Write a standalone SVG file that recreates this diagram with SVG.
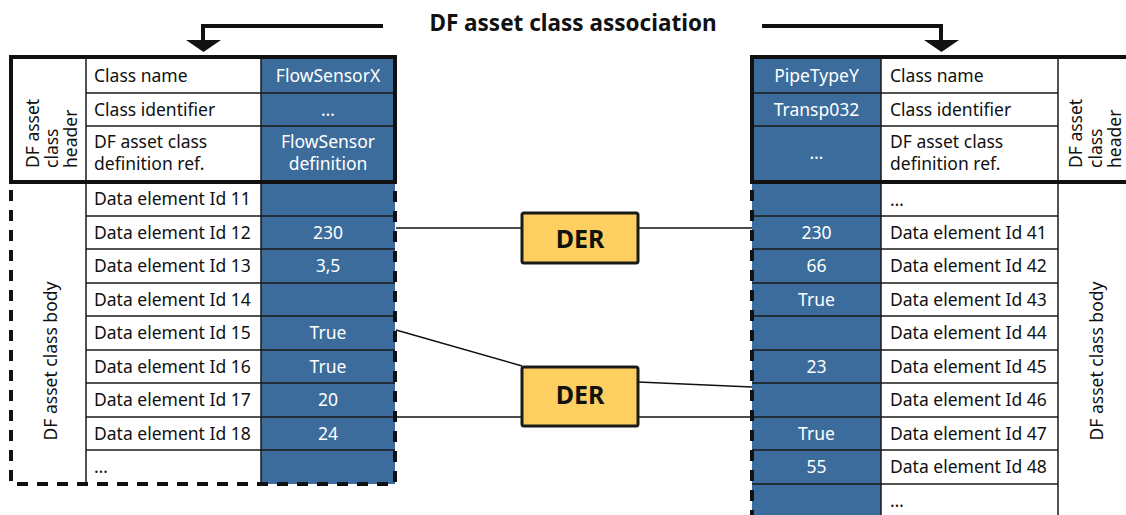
<svg xmlns="http://www.w3.org/2000/svg" width="1126" height="515" viewBox="0 0 1126 515">
<style>
.t{font-family:"Noto Sans","Open Sans",sans-serif;font-size:17.5px;fill:#111}
.v{font-family:"Noto Sans","Open Sans",sans-serif;font-size:17.5px;fill:#fff;text-anchor:middle}
.blue{fill:#3b6c9b}
.grid{stroke:#1a1a1a;stroke-width:1.5;fill:none}
.thick{stroke:#111;stroke-width:4;fill:none}
.dash{stroke:#111;stroke-width:4;fill:none;stroke-dasharray:11 9}
.conn{stroke:#111;stroke-width:1.5;fill:none}
.der rect{fill:#fdcf60;stroke:#1a1a1a;stroke-width:3}
.der text{font-family:"Noto Sans","Open Sans",sans-serif;font-size:25px;font-weight:bold;fill:#111;text-anchor:middle}
.title{font-family:"Noto Sans","Open Sans",sans-serif;font-size:22.5px;font-weight:bold;fill:#111;text-anchor:middle}
</style>
<rect width="1126" height="515" fill="#fff"/>

<g id="title">
<text class="title" x="573" y="31">DF asset class association</text>
<path d="M383,26 H203 V41" stroke="#111" stroke-width="4" fill="none"/>
<polygon points="186,40 221,40 203.5,52" fill="#111"/>
<path d="M762,26 H941 V41" stroke="#111" stroke-width="4" fill="none"/>
<polygon points="924,40 959,40 941.5,52" fill="#111"/>
</g>

<g id="left-table">
<rect x="86" y="57" width="175" height="427" fill="#fff"/>
<rect class="blue" x="261" y="57" width="134" height="427"/>
<path class="grid" d="M86,57 V484 M261,57 V484 M86,93 H395 M86,126 H395 M86,216 H395 M86,249 H395 M86,283 H395 M86,316 H395 M86,350 H395 M86,383 H395 M86,417 H395 M86,450 H395"/>
<rect class="thick" x="11" y="57" width="384" height="125"/>
<path class="dash" d="M11,190 V484 H395 V185"/>
<text class="t" transform="translate(39,168) rotate(-90)">DF asset</text>
<text class="t" transform="translate(58,168) rotate(-90)">class</text>
<text class="t" transform="translate(77,168) rotate(-90)">header</text>
<text class="t" text-anchor="middle" transform="translate(57,361) rotate(-90)">DF asset class body</text>
<text class="t" x="94" y="81.5">Class name</text>
<text class="t" x="94" y="115.5">Class identifier</text>
<text class="t" x="94" y="148">DF asset class</text>
<text class="t" x="94" y="170">definition ref.</text>
<text class="v" x="328" y="81.5">FlowSensorX</text>
<text class="v" x="328" y="115.5">…</text>
<text class="v" x="328" y="148">FlowSensor</text>
<text class="v" x="328" y="170">definition</text>
<text class="t" x="94" y="205">Data element Id 11</text>
<text class="t" x="94" y="238.5">Data element Id 12</text>
<text class="t" x="94" y="272">Data element Id 13</text>
<text class="t" x="94" y="305.5">Data element Id 14</text>
<text class="t" x="94" y="339">Data element Id 15</text>
<text class="t" x="94" y="372.5">Data element Id 16</text>
<text class="t" x="94" y="406">Data element Id 17</text>
<text class="t" x="94" y="439.5">Data element Id 18</text>
<text class="t" x="94" y="473">…</text>
<text class="v" x="328" y="238.5">230</text>
<text class="v" x="328" y="272">3,5</text>
<text class="v" x="328" y="339">True</text>
<text class="v" x="328" y="372.5">True</text>
<text class="v" x="328" y="406">20</text>
<text class="v" x="328" y="439.5">24</text>
</g>

<g id="right-table">
<rect class="blue" x="752" y="57" width="129" height="462"/>
<rect x="881" y="57" width="177" height="462" fill="#fff"/>
<path class="grid" d="M881,57 V519 M1058,57 V519 M752,93 H1058 M752,126 H1058 M752,216 H1058 M752,249 H1058 M752,283 H1058 M752,316 H1058 M752,350 H1058 M752,383 H1058 M752,417 H1058 M752,450 H1058 M752,484 H1058"/>
<path class="thick" d="M1130,57 H752 V182 H1130"/>
<path class="dash" d="M752,190 V519"/>
<text class="t" transform="translate(1082,168) rotate(-90)">DF asset</text>
<text class="t" transform="translate(1102,168) rotate(-90)">class</text>
<text class="t" transform="translate(1121,168) rotate(-90)">header</text>
<text class="t" text-anchor="middle" transform="translate(1103,361) rotate(-90)">DF asset class body</text>
<text class="v" x="816.5" y="81.5">PipeTypeY</text>
<text class="v" x="816.5" y="115.5">Transp032</text>
<text class="v" x="816.5" y="159">…</text>
<text class="t" x="890" y="81.5">Class name</text>
<text class="t" x="890" y="115.5">Class identifier</text>
<text class="t" x="890" y="148">DF asset class</text>
<text class="t" x="890" y="170">definition ref.</text>
<text class="t" x="890" y="206">…</text>
<text class="t" x="890" y="238.5">Data element Id 41</text>
<text class="t" x="890" y="272">Data element Id 42</text>
<text class="t" x="890" y="305.5">Data element Id 43</text>
<text class="t" x="890" y="339">Data element Id 44</text>
<text class="t" x="890" y="372.5">Data element Id 45</text>
<text class="t" x="890" y="406">Data element Id 46</text>
<text class="t" x="890" y="439.5">Data element Id 47</text>
<text class="t" x="890" y="473">Data element Id 48</text>
<text class="t" x="890" y="507">…</text>
<text class="v" x="816.5" y="238.5">230</text>
<text class="v" x="816.5" y="272">66</text>
<text class="v" x="816.5" y="305.5">True</text>
<text class="v" x="816.5" y="372.5">23</text>
<text class="v" x="816.5" y="439.5">True</text>
<text class="v" x="816.5" y="473">55</text>
</g>

<g id="connectors">
<path class="conn" d="M396,228 H522 M638,228 H752"/>
<path class="conn" d="M396,330 L522,366 M638,382 L752,387"/>
<path class="conn" d="M396,417 H522 M638,417 H752"/>
</g>

<g id="der-1" class="der">
<rect x="522" y="213" width="116" height="50" rx="2"/>
<text x="580" y="248">DER</text>
</g>
<g id="der-2" class="der">
<rect x="522" y="367" width="116" height="59" rx="2"/>
<text x="580" y="403.5">DER</text>
</g>
</svg>
